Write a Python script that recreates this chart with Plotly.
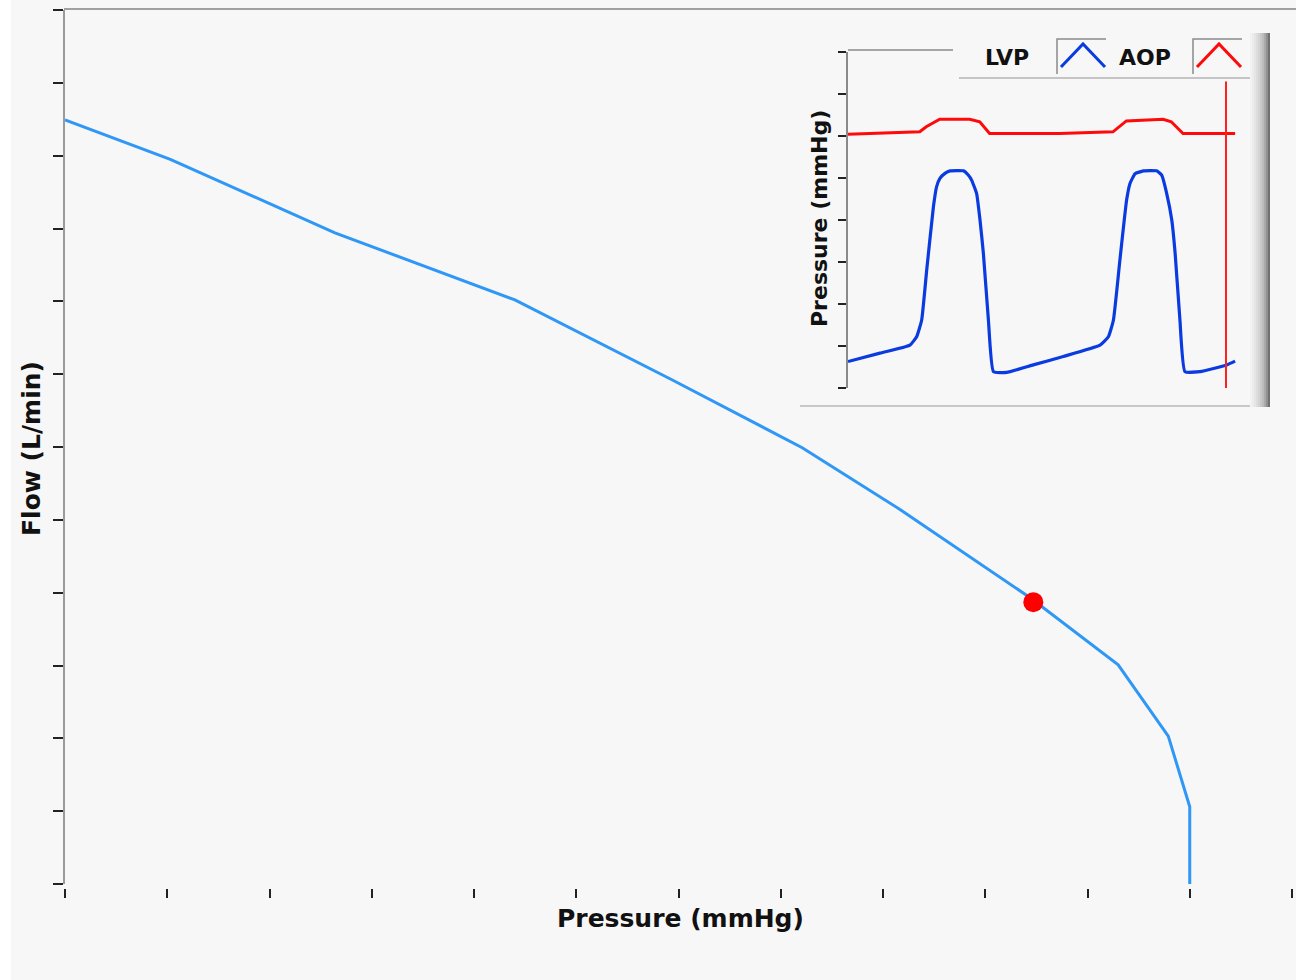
import plotly.graph_objects as go

W, H = 1296, 980

# ---------------- data ----------------
pq_pressure = [0.0, 1.03, 2.64, 4.40, 5.94, 7.21, 8.17, 9.44, 10.30, 10.79, 11.00, 11.00]
pq_flow = [10.49, 9.95, 8.94, 8.02, 6.92, 5.99, 5.14, 3.93, 3.01, 2.03, 1.06, 0.0]
op_pressure = [9.47]
op_flow = [3.87]

lvp_t = [0.000, 0.133, 0.258, 0.286, 0.307, 0.328, 0.356, 0.369, 0.383, 0.404, 0.425,
         0.481, 0.501, 0.515, 0.536, 0.550, 0.564, 0.585, 0.606, 0.661, 0.772, 0.897,
         1.050, 1.085, 1.106, 1.133, 1.161, 1.175, 1.196, 1.231, 1.286, 1.307, 1.328,
         1.349, 1.363, 1.383, 1.404, 1.467, 1.578, 1.613]
lvp_p = [0.63, 0.83, 1.02, 1.22, 1.62, 2.81, 4.32, 4.79, 4.99, 5.11, 5.17,
         5.17, 5.07, 4.95, 4.63, 4.00, 3.21, 1.62, 0.39, 0.37, 0.55, 0.75,
         1.02, 1.22, 1.62, 3.05, 4.48, 4.87, 5.10, 5.17, 5.17, 5.07, 4.63,
         4.00, 3.21, 1.62, 0.39, 0.39, 0.55, 0.64]
aop_t = [0.000, 0.083, 0.299, 0.326, 0.382, 0.507, 0.549, 0.590, 0.882, 1.104, 1.160,
         1.313, 1.347, 1.396, 1.576, 1.613]
aop_p = [6.04, 6.06, 6.10, 6.22, 6.40, 6.40, 6.34, 6.06, 6.06, 6.10, 6.36,
         6.40, 6.34, 6.06, 6.06, 6.06]
cursor_t = [1.575, 1.575]
cursor_p = [0.0, 7.3]

main_ticks = list(range(13))
inset_ticks = list(range(9))

# ---------------- helpers ----------------
def px(x):
    return x / W

def py(y):
    return 1 - y / H

FONT = "DejaVu Sans"
TXT = "#111111"

fig = go.Figure()

fig.add_trace(go.Scatter(x=pq_pressure, y=pq_flow, mode="lines",
                         line=dict(color="#2f97f5", width=3), xaxis="x", yaxis="y",
                         hoverinfo="skip"))
fig.add_trace(go.Scatter(x=op_pressure, y=op_flow, mode="markers",
                         marker=dict(color="#ff0000", size=20), xaxis="x", yaxis="y"))

fig.add_trace(go.Scatter(x=aop_t, y=aop_p, mode="lines", name="AOP",
                         line=dict(color="#ff0a0a", width=3), xaxis="x2", yaxis="y2"))
fig.add_trace(go.Scatter(x=lvp_t, y=lvp_p, mode="lines", name="LVP",
                         line=dict(color="#0a3be0", width=3.2, shape="spline", smoothing=0.4),
                         xaxis="x2", yaxis="y2"))
fig.add_trace(go.Scatter(x=cursor_t, y=cursor_p, mode="lines",
                         line=dict(color="#ff2020", width=2), xaxis="x2", yaxis="y2"))

shapes = []
# background strip
shapes.append(dict(type="rect", xref="paper", yref="paper", x0=px(11), x1=1, y0=0, y1=1,
                   fillcolor="#f7f7f7", line=dict(width=0), layer="below"))
# main top border
shapes.append(dict(type="line", xref="paper", yref="paper", x0=px(64), x1=1, y0=py(9), y1=py(9),
                   line=dict(color="#a0a0a0", width=2)))
# inset top-left border segment
shapes.append(dict(type="line", xref="paper", yref="paper", x0=px(848), x1=px(953), y0=py(50), y1=py(50),
                   line=dict(color="#8a8a8a", width=1.5)))
# legend bottom line
shapes.append(dict(type="line", xref="paper", yref="paper", x0=px(959), x1=px(1262), y0=py(78), y1=py(78),
                   line=dict(color="#c4c4c4", width=2)))
# inset bottom line
shapes.append(dict(type="line", xref="paper", yref="paper", x0=px(800), x1=px(1268), y0=py(406), y1=py(406),
                   line=dict(color="#c8c8c8", width=2)))
# right shadow gradient
grads = ["#f2f2f2", "#ececec", "#e5e5e5", "#dddddd", "#d4d4d4", "#c9c9c9", "#bcbcbc", "#aaaaaa", "#909090", "#707070"]
x0 = 1250
for i, c in enumerate(grads):
    shapes.append(dict(type="rect", xref="paper", yref="paper",
                       x0=px(x0 + i * 2), x1=px(x0 + i * 2 + 2), y0=py(407), y1=py(33),
                       fillcolor=c, line=dict(width=0)))
# legend icon boxes and carets
for bx, col in [(1057, "#0a3be0"), (1193, "#ff0a0a")]:
    shapes.append(dict(type="path", xref="paper", yref="paper",
                       path=f"M {px(bx)},{py(74)} L {px(bx)},{py(39)} L {px(bx + 49)},{py(39)}",
                       line=dict(color="#8a8a8a", width=1.5)))
    shapes.append(dict(type="path", xref="paper", yref="paper",
                       path=f"M {px(bx + 4)},{py(67)} L {px(bx + 26)},{py(44)} L {px(bx + 48)},{py(67)}",
                       line=dict(color=col, width=3)))

annotations = [
    dict(text="<b>Pressure (mmHg)</b>", xref="paper", yref="paper", x=px(681), y=py(918),
         showarrow=False, font=dict(family=FONT, size=25, color=TXT), xanchor="center", yanchor="middle"),
    dict(text="<b>Flow (L/min)</b>", xref="paper", yref="paper", x=px(31), y=py(449),
         showarrow=False, textangle=-90, font=dict(family=FONT, size=25, color=TXT),
         xanchor="center", yanchor="middle"),
    dict(text="<b>Pressure (mmHg)</b>", xref="paper", yref="paper", x=px(819), y=py(219),
         showarrow=False, textangle=-90, font=dict(family=FONT, size=22, color=TXT),
         xanchor="center", yanchor="middle"),
    dict(text="<b>LVP</b>", xref="paper", yref="paper", x=px(1007), y=py(57),
         showarrow=False, font=dict(family=FONT, size=22, color=TXT), xanchor="center", yanchor="middle"),
    dict(text="<b>AOP</b>", xref="paper", yref="paper", x=px(1145), y=py(57),
         showarrow=False, font=dict(family=FONT, size=22, color=TXT), xanchor="center", yanchor="middle"),
]

fig.update_layout(
    width=W, height=H,
    margin=dict(l=0, r=0, t=0, b=0),
    paper_bgcolor="#ffffff",
    plot_bgcolor="rgba(0,0,0,0)",
    showlegend=False,
    shapes=shapes,
    annotations=annotations,
    xaxis=dict(domain=[px(65), px(1292)], range=[0, 12], tickvals=main_ticks, showticklabels=False,
               ticks="outside", ticklen=9, tickwidth=2, tickcolor="#222222", showline=False,
               showgrid=False, zeroline=False, anchor="free", position=py(888)),
    yaxis=dict(domain=[py(884), py(10)], range=[0, 12], tickvals=main_ticks, showticklabels=False,
               ticks="outside", ticklen=10, tickwidth=2, tickcolor="#222222", showline=True,
               linecolor="#9a9a9a", linewidth=2, showgrid=False, zeroline=False, anchor="x"),
    xaxis2=dict(domain=[px(848), px(1253)], range=[0, 1.6875], showticklabels=False, ticks="",
                showline=False, showgrid=False, zeroline=False, anchor="y2"),
    yaxis2=dict(domain=[py(388), py(52)], range=[0, 8], tickvals=inset_ticks, showticklabels=False,
                ticks="outside", ticklen=8, tickwidth=2, tickcolor="#222222", showline=True,
                linecolor="#8a8a8a", linewidth=2, showgrid=False, zeroline=False, anchor="x2"),
)

fig.write_html("out.html")
